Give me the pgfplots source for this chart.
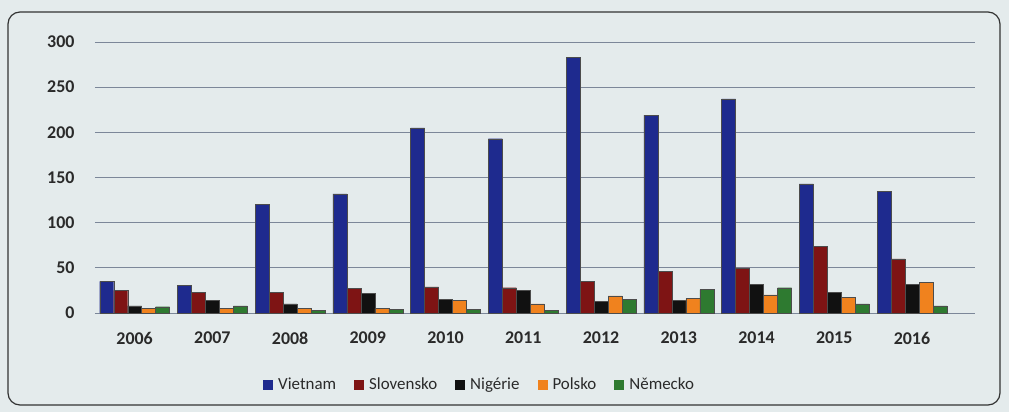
\documentclass[border=0pt]{standalone}
\usepackage{fontspec}
\setmainfont{Carlito}
\usepackage{pgfplots}
\pgfplotsset{compat=1.18}

\definecolor{bgpaper}{HTML}{E4EBEC}
\definecolor{gridc}{HTML}{7C8799}
\definecolor{cViet}{HTML}{1E2A8E}
\definecolor{cSlov}{HTML}{7E1414}
\definecolor{cNig}{HTML}{111111}
\definecolor{cPol}{HTML}{F0821E}
\definecolor{cNem}{HTML}{2E7A30}
\definecolor{txt}{HTML}{2A2A2A}

% year, Vietnam, Slovensko, Nigerie, Polsko, Nemecko
\begin{document}
\begin{tikzpicture}[x=1bp,y=1bp]
\fill[bgpaper] (-95,-99) rectangle (914,313);
\draw[line width=1.2pt,rounded corners=12bp,black!80] (-87,-92) rectangle (905,301);
\begin{axis}[
  scale only axis,
  width=880bp, height=271bp,
  at={(0,0)}, anchor=south west,
  ybar=0pt,
  bar width=0.18,
  xmin=2005.49, xmax=2016.81,
  ymin=0, ymax=300,
  ytick={0,50,...,300},
  xtick={2006,...,2016},
  xticklabel style={/pgf/number format/1000 sep={}, font=\fontsize{18}{20}\selectfont\bfseries, text=txt},
  yticklabel style={font=\fontsize{18}{20}\selectfont\bfseries, text=txt},
  /pgf/number format/assume math mode=true,
  axis line style={draw=none},
  axis x line*=bottom,
  tick style={draw=none},
  ymajorgrids,
  grid style={gridc, line width=0.7pt},
  xticklabel shift=11bp,
  yticklabel shift=17bp,
  legend columns=-1,
  legend style={draw=none, fill=none, at={(0.437,-0.265)}, anchor=center,
    font=\fontsize{17}{19}\selectfont, text=txt,
    /tikz/every even column/.append style={column sep=16bp}},
  legend image code/.code={\fill[#1,draw=none] (0bp,-5bp) rectangle (10bp,5bp); \path[draw=none,fill=none] (0bp,0bp) rectangle (13bp,0.1bp);},
  every axis plot/.append style={draw=black!70, line width=0.3pt},
]
\addplot[fill=cViet] coordinates {(2006,35) (2007,31) (2008,120) (2009,132) (2010,205) (2011,193) (2012,283) (2013,219) (2014,237) (2015,143) (2016,135)};
\addplot[fill=cSlov] coordinates {(2006,25) (2007,23) (2008,23) (2009,27) (2010,29) (2011,28) (2012,35) (2013,46) (2014,50) (2015,74) (2016,60)};
\addplot[fill=cNig] coordinates {(2006,8) (2007,14) (2008,10) (2009,22) (2010,15) (2011,25) (2012,13) (2013,14) (2014,32) (2015,23) (2016,32)};
\addplot[fill=cPol] coordinates {(2006,5) (2007,5) (2008,5) (2009,5) (2010,14) (2011,10) (2012,19) (2013,16) (2014,20) (2015,17) (2016,34)};
\addplot[fill=cNem] coordinates {(2006,7) (2007,8) (2008,3) (2009,4) (2010,4) (2011,3) (2012,15) (2013,26) (2014,28) (2015,10) (2016,8)};
\legend{Vietnam, Slovensko, Nigérie, Polsko, Německo}
\end{axis}
\end{tikzpicture}
\end{document}
